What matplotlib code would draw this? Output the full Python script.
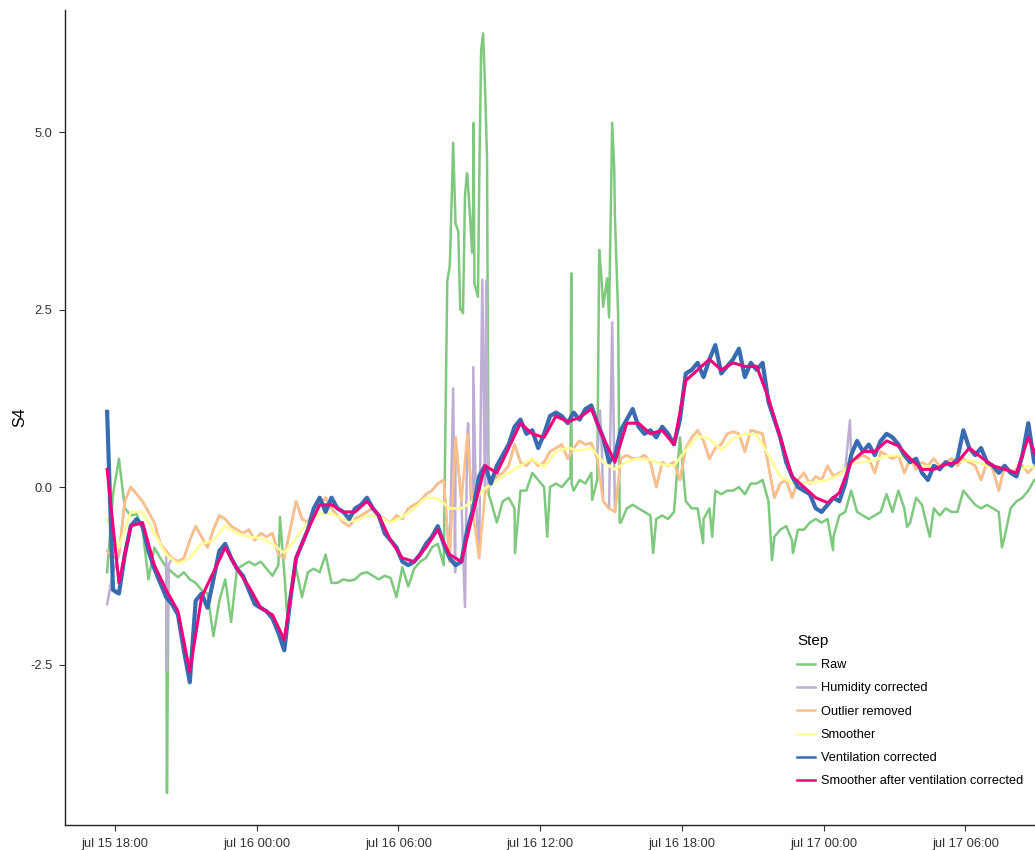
import numpy as np
import pandas as pd
import matplotlib
matplotlib.use("Agg")
import matplotlib.pyplot as plt
import matplotlib.dates as mdates
from matplotlib.ticker import FuncFormatter

plt.rcParams['font.family'] = ['Liberation Sans', 'DejaVu Sans']

# sensor S4, readings every 15 minutes from jul 15 17:40
start = "2021-07-15 17:40"

ventilation = [
    1.06, -1.45, -1.5, -0.95, -0.55, -0.45, -0.55, -0.9, -1.15, -1.35,
    -1.55, -1.65, -1.8, -2.3, -2.75, -1.6, -1.5, -1.7, -1.3, -0.9,
    -0.8, -1.0, -1.15, -1.25, -1.45, -1.65, -1.7, -1.75, -1.85, -2.05,
    -2.3, -1.6, -1.0, -0.8, -0.6, -0.3, -0.15, -0.35, -0.15, -0.3,
    -0.35, -0.45, -0.3, -0.25, -0.15, -0.3, -0.4, -0.65, -0.75, -0.85,
    -1.05, -1.1, -1.05, -0.95, -0.8, -0.7, -0.55, -0.8, -1.0, -1.1,
    -1.05, -0.6, -0.3, 0.15, 0.3, 0.05, 0.3, 0.45, 0.6, 0.85,
    0.95, 0.75, 0.8, 0.55, 0.75, 1.0, 1.05, 1.0, 0.9, 1.05,
    0.95, 1.1, 1.15, 0.9, 0.7, 0.35, 0.45, 0.8, 0.95, 1.1,
    0.85, 0.75, 0.8, 0.7, 0.85, 0.75, 0.6, 0.95, 1.6, 1.65,
    1.75, 1.55, 1.8, 2.0, 1.6, 1.7, 1.8, 1.95, 1.55, 1.75,
    1.65, 1.75, 1.2, 0.95, 0.7, 0.35, 0.15, 0.0, -0.05, -0.1,
    -0.3, -0.35, -0.25, -0.15, -0.2, 0.05, 0.45, 0.65, 0.5, 0.6,
    0.45, 0.65, 0.75, 0.7, 0.6, 0.45, 0.35, 0.4, 0.2, 0.1,
    0.3, 0.25, 0.35, 0.3, 0.4, 0.8, 0.55, 0.45, 0.55, 0.35,
    0.3, 0.2, 0.3, 0.2, 0.15, 0.45, 0.9, 0.35, 0.3, 0.3,
]

outlier = [
    -0.9, -1.0, -0.95, -0.2, 0.0, -0.1, -0.2, -0.35, -0.5, -0.8,
    -0.9, -1.0, -1.05, -1.0, -0.75, -0.55, -0.7, -0.85, -0.6, -0.4,
    -0.45, -0.55, -0.6, -0.65, -0.6, -0.75, -0.65, -0.7, -0.65, -0.95,
    -1.0, -0.6, -0.2, -0.45, -0.5, -0.3, -0.25, -0.15, -0.3, -0.4,
    -0.5, -0.55, -0.45, -0.4, -0.35, -0.3, -0.4, -0.45, -0.5, -0.4,
    -0.45, -0.3, -0.25, -0.2, -0.1, -0.05, 0.05, 0.1, -1.05, 0.7,
    -0.2, 0.75, -0.4, -1.0, -0.1, 0.05, 0.15, 0.2, 0.3, 0.6,
    0.35, 0.3, 0.4, 0.3, 0.35, 0.5, 0.55, 0.6, 0.4, 0.55,
    0.65, 0.6, 0.62, 0.4, -0.2, -0.3, -0.35, 0.4, 0.45, 0.4,
    0.4, 0.45, 0.35, 0.0, 0.35, 0.3, 0.35, 0.1, 0.55, 0.7,
    0.8, 0.65, 0.4, 0.55, 0.6, 0.75, 0.78, 0.75, 0.5, 0.8,
    0.78, 0.75, 0.3, -0.15, 0.05, 0.1, -0.15, 0.1, 0.2, 0.05,
    0.15, 0.1, 0.3, 0.15, 0.2, 0.25, 0.4, 0.4, 0.45, 0.4,
    0.2, 0.5, 0.45, 0.4, 0.45, 0.2, 0.4, 0.25, 0.35, 0.3,
    0.4, 0.3, 0.35, 0.4, 0.3, 0.4, 0.35, 0.3, 0.1, 0.35,
    0.25, -0.05, 0.3, 0.2, 0.25, 0.3, 0.2, 0.3, 0.25, 0.25,
]

raw = [
    -1.2, -0.1, 0.4, -0.3, -0.4, -0.38, -0.6, -1.3, -0.85, -1.0,
    -1.13, -1.2, -1.27, -1.2, -1.3, -1.35, -1.45, -1.5, -2.1, -1.6,
    -1.3, -1.9, -1.15, -1.1, -1.05, -1.1, -1.05, -1.15, -1.25, -1.1,
    -1.2, -1.5, -1.15, -1.55, -1.2, -1.15, -1.2, -0.95, -1.35, -1.35,
    -1.3, -1.32, -1.3, -1.22, -1.2, -1.25, -1.3, -1.25, -1.28, -1.55,
    -1.13, -1.4, -1.15, -1.05, -1.0, -0.85, -0.8, -1.1, 3.1, 3.7,
    2.5, 4.4, 4.0, 4.2, 5.63, -0.2, -0.5, -0.2, -0.15, -0.3,
    -0.05, -0.05, 0.2, 0.1, 0.0, 0.0, 0.05, 0.0, 0.1, -0.05,
    0.1, 0.05, 0.2, 0.1, 2.54, 2.39, 3.8, -0.5, -0.3, -0.25,
    -0.3, -0.35, -0.4, -0.45, -0.4, -0.45, -0.35, 0.7, -0.2, -0.3,
    -0.3, -0.45, -0.3, -0.05, -0.1, -0.05, -0.05, 0.0, -0.1, 0.05,
    0.05, 0.1, -0.2, -0.7, -0.6, -0.55, -0.75, -0.6, -0.6, -0.5,
    -0.45, -0.5, -0.45, -0.7, -0.4, -0.35, -0.05, -0.35, -0.4, -0.45,
    -0.4, -0.35, -0.1, -0.35, -0.05, -0.3, -0.5, -0.15, -0.25, -0.6,
    -0.3, -0.4, -0.3, -0.35, -0.35, -0.05, -0.15, -0.25, -0.3, -0.25,
    -0.3, -0.35, -0.7, -0.3, -0.2, -0.15, -0.05, 0.1, 0.05, 0.05,
]

# short spikes in the raw signal, between the regular readings
raw_spike_times = [
    "2021-07-15 20:12", "2021-07-15 20:16",
    "2021-07-16 00:59", "2021-07-16 01:17",
    "2021-07-16 08:04", "2021-07-16 08:11", "2021-07-16 08:19", "2021-07-16 08:26",
    "2021-07-16 08:32", "2021-07-16 08:37", "2021-07-16 08:44", "2021-07-16 08:49",
    "2021-07-16 08:54", "2021-07-16 09:02", "2021-07-16 09:07", "2021-07-16 09:11",
    "2021-07-16 09:13", "2021-07-16 09:22", "2021-07-16 09:30", "2021-07-16 09:35",
    "2021-07-16 09:40", "2021-07-16 09:45", "2021-07-16 09:49",
    "2021-07-16 10:56", "2021-07-16 12:18",
    "2021-07-16 13:17", "2021-07-16 13:19", "2021-07-16 13:20",
    "2021-07-16 14:12", "2021-07-16 14:30", "2021-07-16 14:35", "2021-07-16 14:50",
    "2021-07-16 15:03", "2021-07-16 15:08", "2021-07-16 15:18", "2021-07-16 15:22",
    "2021-07-16 16:47", "2021-07-16 18:54", "2021-07-16 19:17", "2021-07-16 21:49",
    "2021-07-16 22:42", "2021-07-17 00:24", "2021-07-17 03:32", "2021-07-17 04:30",
    "2021-07-17 07:33",
]
raw_spike_values = [
    -4.31, -1.15,
    -0.42, -1.78,
    2.9, 3.2, 4.85, 3.7,
    3.6, 2.5, 2.45, 4.1,
    4.42, 3.8, 3.3, 5.13,
    2.87, 2.68, 6.15, 6.39,
    5.63, 4.65, -0.1,
    -0.93, -0.7,
    0.14, 3.01, 0.05,
    -0.18, 3.34, 3.0, 2.94,
    5.13, 4.51, 2.45, -0.5,
    -0.93, -0.79, -0.7, -1.03,
    -0.93, -0.89, -0.56, -0.7,
    -0.85,
]

# humidity corrected = outlier removed plus the outliers themselves
humidity_head = [-1.65, -1.2]
hum_spike_times = [
    "2021-07-15 20:12", "2021-07-15 20:16",
    "2021-07-16 08:19", "2021-07-16 08:24", "2021-07-16 08:49", "2021-07-16 08:57",
    "2021-07-16 09:05", "2021-07-16 09:10", "2021-07-16 09:17", "2021-07-16 09:33",
    "2021-07-16 09:43", "2021-07-16 09:48",
    "2021-07-16 14:32", "2021-07-16 14:37", "2021-07-16 15:03", "2021-07-16 15:08",
    "2021-07-17 01:07",
]
hum_spike_values = [
    -2.58, -1.1,
    1.39, -1.2, -1.69, 0.9,
    -0.3, 1.69, -0.2, 2.92,
    2.9, 0.0,
    1.08, 0.5, 2.32, 0.4,
    0.94,
]

# smoothed series, every 30 minutes
smoother = [
    -0.45, -0.85, -0.35, -0.35, -0.65, -0.95, -1.08, -1.0, -0.8, -0.75,
    -0.55, -0.65, -0.7, -0.72, -0.8, -0.93, -0.72, -0.5, -0.37, -0.37,
    -0.46, -0.48, -0.4, -0.42, -0.5, -0.42, -0.3, -0.15, -0.16, -0.3,
    -0.3, -0.2, -0.02, 0.1, 0.2, 0.3, 0.4, 0.28, 0.5, 0.55,
    0.52, 0.55, 0.35, 0.25, 0.36, 0.4, 0.38, 0.32, 0.3, 0.52,
    0.72, 0.68, 0.52, 0.68, 0.75, 0.74, 0.45, 0.15, 0.06, 0.06,
    0.07, 0.1, 0.17, 0.33, 0.35, 0.38, 0.44, 0.45, 0.35, 0.3,
    0.28, 0.3, 0.35, 0.38, 0.33, 0.28, 0.25, 0.22, 0.3, 0.25,
]

smoother_vent = [
    0.25, -1.35, -0.55, -0.5, -1.1, -1.45, -1.75, -2.6, -1.55, -1.2,
    -0.85, -1.15, -1.4, -1.7, -1.8, -2.15, -1.0, -0.6, -0.25, -0.25,
    -0.35, -0.35, -0.2, -0.4, -0.75, -1.0, -1.05, -0.85, -0.6, -0.95,
    -1.05, -0.35, 0.3, 0.2, 0.55, 0.9, 0.75, 0.7, 1.0, 0.92,
    0.98, 1.1, 0.7, 0.35, 0.9, 0.9, 0.75, 0.8, 0.6, 1.5,
    1.65, 1.8, 1.65, 1.75, 1.7, 1.7, 1.25, 0.7, 0.15, 0.0,
    -0.15, -0.22, -0.08, 0.35, 0.5, 0.5, 0.65, 0.58, 0.4, 0.25,
    0.25, 0.32, 0.35, 0.55, 0.42, 0.3, 0.25, 0.2, 0.7, 0.3,
]

steps = ["Raw", "Humidity corrected", "Outlier removed", "Smoother",
         "Ventilation corrected", "Smoother after ventilation corrected"]
colors = ["#7FC97F", "#BEAED4", "#FDC086", "#FFFF99", "#386CB0", "#F0027F"]
widths = [1.8, 1.8, 1.8, 1.9, 3.0, 2.2]


def with_spikes(times, values, extra_t, extra_v):
    s = pd.Series(list(values) + list(extra_v),
                  index=list(times) + list(pd.to_datetime(extra_t)))
    return s.sort_index(kind="mergesort")


t15 = pd.date_range(start, periods=len(ventilation), freq="15min")
t30 = pd.date_range(start, periods=len(smoother), freq="30min")

humidity = humidity_head + outlier[len(humidity_head):]

series = [
    with_spikes(t15, raw, raw_spike_times, raw_spike_values),
    with_spikes(t15, humidity, hum_spike_times, hum_spike_values),
    pd.Series(outlier, index=t15),
    pd.Series(smoother, index=t30),
    pd.Series(ventilation, index=t15),
    pd.Series(smoother_vent, index=t30),
]

fig = plt.figure(figsize=(10.35, 8.5), dpi=100)
ax = fig.add_axes([65 / 1035, 25 / 850, 1 - 65 / 1035, 815 / 850])

for s, name, c, w in zip(series, steps, colors, widths):
    ax.plot(s.index, s.values, color=c, lw=w, label=name,
            solid_joinstyle="round")

ax.set_xlim(pd.Timestamp("2021-07-15 15:53"), pd.Timestamp("2021-07-17 08:57"))
ax.set_ylim(-4.76, 6.72)
ax.set_yticks([-2.5, 0.0, 2.5, 5.0])
ax.set_yticklabels(["-2.5", "0.0", "2.5", "5.0"])

ax.xaxis.set_major_locator(mdates.HourLocator(byhour=[0, 6, 12, 18]))
ax.xaxis.set_major_formatter(FuncFormatter(
    lambda x, pos: mdates.num2date(x).strftime("%b %d %H:%M").lower()))

for side in ["top", "right"]:
    ax.spines[side].set_visible(False)
for side in ["left", "bottom"]:
    ax.spines[side].set_color("#222222")
    ax.spines[side].set_linewidth(1.0)

ax.tick_params(direction="out", length=4, width=0.8, color="#333333",
               labelsize=9.3, labelcolor="#333333")
ax.tick_params(axis="x", pad=5)
ax.tick_params(axis="y", pad=5)

ax.set_ylabel("S4", fontsize=11.5, color="black")
ax.yaxis.set_label_coords(-0.039, 0.5)

# legend keys drawn with uniform strokes
handles = [plt.Line2D([], [], color=c, lw=1.8) for c in colors]
leg = ax.legend(handles, steps, title="Step", loc="upper left",
                bbox_to_anchor=(797 / 1035, 1 - 634 / 850),
                bbox_transform=fig.transFigure, frameon=False,
                fontsize=9.2, title_fontsize=11, handlelength=1.4,
                handletextpad=0.45, labelspacing=0.88, borderaxespad=0,
                borderpad=0, alignment="left")

fig.savefig("out.png", dpi=100)
